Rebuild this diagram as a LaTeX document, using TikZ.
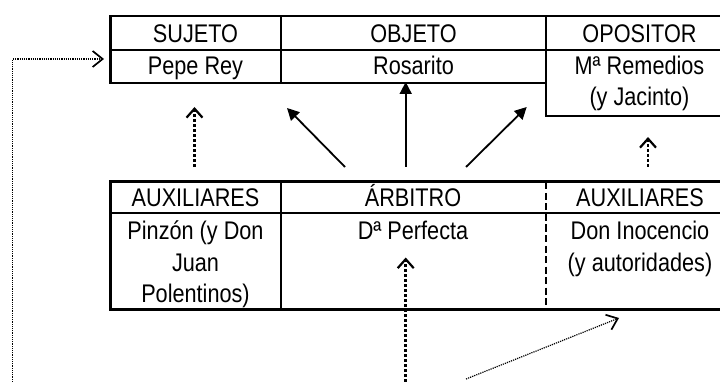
\documentclass[tikz,border=0pt]{standalone}
\usepackage{fontspec}
\setmainfont[FakeStretch=0.85]{Liberation Sans}
\usetikzlibrary{arrows.meta}
\begin{document}
\begin{tikzpicture}[x=1pt,y=-1pt,
  tbl/.style={line width=2.4pt},
  dashdiv/.style={line width=2.2pt, dash pattern=on 7pt off 3.5pt},
  lbl/.style={anchor=base, inner sep=0pt, font=\fontsize{25.5}{31}\selectfont},
  solidarrow/.style={line width=1.8pt, -{Triangle[length=12pt,width=12pt]}},
  thickdot/.style={line width=2.8pt, dash pattern=on 3pt off 2pt, -{Straight Barb[length=9pt,width=16pt,line width=2.2pt]}},
  thindot/.style={line width=1.2pt, dash pattern=on 1.2pt off 1pt, -{Straight Barb[length=10pt,width=16pt,line width=1.7pt]}}]
\useasboundingbox (0,0) rectangle (720,382);
% top table
\draw[tbl] (720,16) -- (110.5,16) -- (110.5,83) -- (546,83);
\draw[tbl] (110.5,50) -- (720,50);
\draw[tbl] (281,16) -- (281,83);
\draw[tbl] (546,16) -- (546,116) -- (720,116);
% bottom table
\draw[tbl] (720,181.5) -- (110.5,181.5) -- (110.5,309.5) -- (720,309.5);
\draw[tbl] (110.5,213) -- (720,213);
\draw[tbl] (281,181.5) -- (281,309.5);
\draw[dashdiv] (546,182.5) -- (546,309.5);
% texts
\node[lbl] (suj) at (195.5,43) {SUJETO};
\node[lbl] (obj) at (413.5,43) {OBJETO};
\node[lbl] (opo) at (639.5,43) {OPOSITOR};
\node[lbl] (pepe) at (195.5,75) {Pepe Rey};
\node[lbl] (ros) at (413.5,75) {Rosarito};
\node[lbl] (rem) at (639.5,75) {Mª Remedios};
\node[lbl] (jac) at (639.5,106) {(y Jacinto)};
\node[lbl] (aux1) at (195.5,207) {AUXILIARES};
\node[lbl] (arb) at (413,207) {ÁRBITRO};
\node[lbl] (aux2) at (640,207) {AUXILIARES};
\node[lbl] (pin) at (195.5,240) {Pinzón (y Don};
\node[lbl] (juan) at (195.5,271) {Juan};
\node[lbl] (pol) at (195.5,302) {Polentinos)};
\node[lbl] (dper) at (413,240) {Dª Perfecta};
\node[lbl] (inoc) at (640,240) {Don Inocencio};
\node[lbl] (auto) at (640,271) {(y autoridades)};
% connector end points
\coordinate (lb) at (12.5,382);
\coordinate (lc) at (12.5,59);
\coordinate (lt) at (104,59);
\coordinate (a1s) at (194.5,167);
\coordinate (a1t) at (194.5,107);
\coordinate (d1s) at (345,167);
\coordinate (d1t) at (287,108);
\coordinate (d2s) at (405.7,167);
\coordinate (d2t) at (405.7,82);
\coordinate (d3s) at (466,167);
\coordinate (d3t) at (526.7,107);
\coordinate (a2s) at (648,167);
\coordinate (a2t) at (648,137);
\coordinate (bcs) at (405.7,382);
\coordinate (bct) at (405.7,257.5);
\coordinate (brs) at (466,379);
\coordinate (brt) at (619,318);
% connectors
\draw[thindot] (lb) -- (lc) -- (lt);
\draw[thickdot] (a1s) -- (a1t);
\draw[solidarrow] (d1s) -- (d1t);
\draw[solidarrow] (d2s) -- (d2t);
\draw[solidarrow] (d3s) -- (d3t);
\draw[thickdot] (a2s) -- (a2t);
\draw[thickdot] (bcs) -- (bct);
\draw[thindot] (brs) -- (brt);
\end{tikzpicture}
\end{document}
